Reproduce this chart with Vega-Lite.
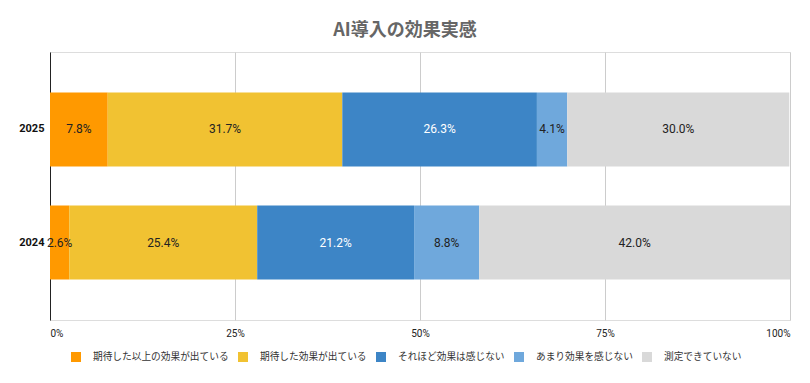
{
  "$schema": "https://vega.github.io/schema/vega-lite/v6.json",
  "width": 740,
  "height": 268,
  "autosize": "none",
  "padding": {"left": 50, "top": 52, "right": 20, "bottom": 63},
  "background": "white",
  "title": {
    "text": "AI導入の効果実感",
    "font": "Noto Sans CJK JP",
    "fontSize": 18,
    "fontWeight": "bold",
    "color": "#666666",
    "anchor": "middle",
    "dx": -15,
    "offset": 12
  },
  "data": {
    "values": [
      {"year": "2025", "cat": "期待した以上の効果が出ている", "value": 7.8},
      {"year": "2025", "cat": "期待した効果が出ている", "value": 31.7},
      {"year": "2025", "cat": "それほど効果は感じない", "value": 26.3},
      {"year": "2025", "cat": "あまり効果を感じない", "value": 4.1},
      {"year": "2025", "cat": "測定できていない", "value": 30.0},
      {"year": "2024", "cat": "期待した以上の効果が出ている", "value": 2.6},
      {"year": "2024", "cat": "期待した効果が出ている", "value": 25.4},
      {"year": "2024", "cat": "それほど効果は感じない", "value": 21.2},
      {"year": "2024", "cat": "あまり効果を感じない", "value": 8.8},
      {"year": "2024", "cat": "測定できていない", "value": 42.0}
    ]
  },
  "transform": [
    {"calculate": "indexof(['期待した以上の効果が出ている','期待した効果が出ている','それほど効果は感じない','あまり効果を感じない','測定できていない'], datum.cat)", "as": "ord"},
    {"stack": "value", "groupby": ["year"], "sort": [{"field": "ord", "order": "ascending"}], "as": ["v0", "v1"]},
    {"calculate": "(datum.v0 + datum.v1) / 2", "as": "mid"},
    {"calculate": "format(datum.value, '.1f') + '%'", "as": "label"}
  ],
  "encoding": {
    "y": {
      "field": "year",
      "type": "nominal",
      "sort": "descending",
      "title": null,
      "scale": {"paddingInner": 0.345, "paddingOuter": 0.358},
      "axis": {
        "domain": true,
        "domainColor": "#222222",
        "ticks": false,
        "labelFont": "Roboto",
        "labelFontSize": 11,
        "labelFontWeight": "bold",
        "labelColor": "#111111",
        "labelPadding": 6
      }
    }
  },
  "layer": [
    {
      "mark": {"type": "bar"},
      "encoding": {
        "x": {
          "field": "v0",
          "type": "quantitative",
          "scale": {"domain": [0, 100], "nice": false},
          "title": null,
          "axis": {
            "values": [0, 25, 50, 75, 100],
            "labelExpr": "datum.value + '%'",
            "domain": false,
            "ticks": false,
            "grid": true,
            "gridColor": "#cccccc",
            "labelFont": "Roboto",
            "labelFontSize": 10,
            "labelColor": "#222222",
            "labelPadding": 8
          }
        },
        "x2": {"field": "v1"},
        "color": {
          "field": "cat",
          "type": "nominal",
          "scale": {
            "domain": ["期待した以上の効果が出ている", "期待した効果が出ている", "それほど効果は感じない", "あまり効果を感じない", "測定できていない"],
            "range": ["#FF9900", "#F1C232", "#3D85C6", "#6FA8DC", "#D9D9D9"]
          },
          "legend": {
            "title": null,
            "orient": "none",
            "direction": "horizontal",
            "legendX": 21,
            "legendY": 300,
            "symbolType": "square",
            "symbolSize": 100,
            "symbolStrokeWidth": 0,
            "symbolOpacity": 1,
            "labelFont": "Noto Sans CJK JP",
            "labelFontSize": 9.7,
            "labelColor": "#333333",
            "labelOffset": 12,
            "columnPadding": 9
          }
        }
      }
    },
    {
      "mark": {"type": "text", "font": "Roboto", "fontSize": 12},
      "encoding": {
        "x": {"field": "mid", "type": "quantitative"},
        "text": {"field": "label", "type": "nominal"},
        "color": {
          "condition": {"test": "datum.cat === 'それほど効果は感じない'", "value": "#ffffff"},
          "value": "#222222"
        }
      }
    }
  ]
}
